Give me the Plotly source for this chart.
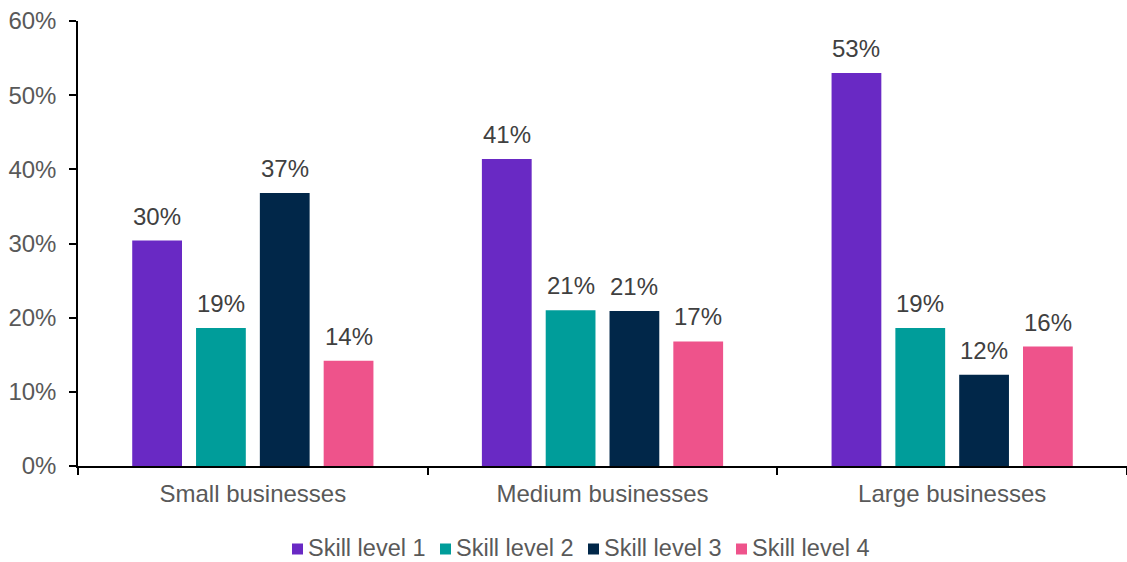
import plotly.graph_objects as go

categories = ["Small businesses", "Medium businesses", "Large businesses"]
series_names = ["Skill level 1", "Skill level 2", "Skill level 3", "Skill level 4"]
skill1 = [0.304, 0.414, 0.530]
skill2 = [0.186, 0.210, 0.186]
skill3 = [0.368, 0.209, 0.123]
skill4 = [0.142, 0.168, 0.161]
colors = ["#6929C4", "#009D9A", "#012749", "#EE538B"]
y_ticks = [0, 0.1, 0.2, 0.3, 0.4, 0.5, 0.6]

series = [skill1, skill2, skill3, skill4]
FONT = "Liberation Sans, Arial, sans-serif"
W, H = 1127, 562
ML, MR, MT, MB = 78, 0, 21, 96
PW, PH = W - ML - MR, H - MT - MB
bargap = 0.27
slot = (1 - bargap) / len(series)


def px_x(px):
    return (px - ML) / PW


def px_y(py):
    return (H - MB - py) / PH


fig = go.Figure()
for name, vals, col in zip(series_names, series, colors):
    fig.add_trace(go.Bar(
        name=name, x=categories, y=vals,
        marker=dict(color=col, line=dict(width=0)),
        showlegend=False,
    ))

annotations = []
for i, vals in enumerate(series):
    for j, v in enumerate(vals):
        annotations.append(dict(
            x=j + (i - (len(series) - 1) / 2) * slot, y=v,
            xref="x", yref="y", text=f"{v*100:.0f}%", showarrow=False,
            yanchor="bottom", yshift=9,
            font=dict(family=FONT, size=24, color="#404040"),
        ))

# legend drawn as colour keys + text labels
shapes = []
leg_start, leg_step, leg_y, key = 292, 148, 548, 11
for i, (name, col) in enumerate(zip(series_names, colors)):
    x0 = leg_start + i * leg_step
    shapes.append(dict(
        type="rect", xref="paper", yref="paper",
        x0=px_x(x0), x1=px_x(x0 + key),
        y0=px_y(leg_y + 1 + key / 2), y1=px_y(leg_y + 1 - key / 2),
        fillcolor=col, line=dict(width=0),
    ))
    annotations.append(dict(
        x=px_x(x0 + key + 3), y=px_y(leg_y), xref="paper", yref="paper",
        xanchor="left", yanchor="middle", text=name, showarrow=False,
        font=dict(family=FONT, size=23.5, color="#595959"),
    ))

fig.update_layout(
    width=W, height=H,
    margin=dict(l=ML, r=MR, t=MT, b=MB, autoexpand=False),
    paper_bgcolor="white", plot_bgcolor="white",
    barmode="group", bargap=bargap, bargroupgap=0.22,
    font=dict(family=FONT, size=24, color="#595959"),
    showlegend=False,
    annotations=annotations,
    shapes=shapes,
)
fig.update_xaxes(
    type="category", showline=True, linecolor="black", linewidth=1.5,
    ticks="outside", tickson="boundaries", ticklen=7, tickcolor="black",
    tickwidth=1.5, showgrid=False, zeroline=False, automargin=False,
    ticklabelstandoff=5,
    tickfont=dict(family=FONT, size=24, color="#595959"),
    range=[-0.5, 2.5],
)
fig.update_yaxes(
    range=[0, 0.6], tickvals=y_ticks, tickformat=".0%",
    showline=True, linecolor="black", linewidth=1.5,
    ticks="outside", ticklen=7, tickcolor="black", tickwidth=1.5,
    showgrid=False, zeroline=False, ticklabelstandoff=8, automargin=False,
    tickfont=dict(family=FONT, size=24, color="#595959"),
)

fig.write_html("out.html")
